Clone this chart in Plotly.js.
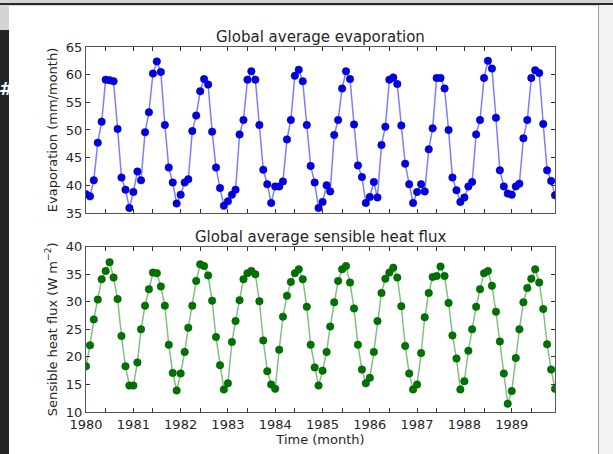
<!DOCTYPE html>
<html>
<head>
<meta charset="utf-8">
<script src="https://cdn.plot.ly/plotly-3.0.1.min.js"></script>
<style>
  html, body { margin: 0; padding: 0; width: 613px; height: 454px; overflow: hidden; background: #d4d4d4; }
  #leftbar { position: absolute; left: 0; top: 30px; width: 9px; height: 424px; background: #242424; }
  #topline { position: absolute; left: 0; top: 3px; width: 613px; height: 2px; background: #2a2a2a; }
  #rightbar { position: absolute; left: 598px; top: 5px; width: 15px; height: 449px; background: #f2f2f2; border-left: 1px solid #9a9a9a; }
  #hash { position: absolute; left: -1px; top: 78px; color: #ffffff; font: bold 18px "DejaVu Sans", sans-serif; }
  #chart { position: absolute; left: 9px; top: 6px; width: 589px; height: 448px; background: #ffffff; }
</style>
</head>
<body>
<div id="leftbar"></div>
<div id="topline"></div>
<div id="rightbar"></div>
<div id="hash">#</div>
<div id="chart"></div>
<script>
// ---- data (monthly, Jan 1980 - Dec 1989) ----
const startYear = 1980;
const years = [1980, 1981, 1982, 1983, 1984, 1985, 1986, 1987, 1988, 1989];

const evaporation = [
  38.4, 38.0, 40.9, 47.7, 51.5, 59.1, 59.0, 58.8, 50.2, 41.4, 39.2, 35.9,
  38.8, 42.5, 40.9, 49.6, 53.2, 60.2, 62.4, 60.5, 50.9, 43.2, 40.5, 36.7,
  38.3, 40.5, 41.1, 49.8, 52.6, 57.0, 59.2, 58.2, 49.7, 43.2, 39.5, 36.3,
  37.1, 38.3, 39.2, 49.2, 51.8, 59.1, 60.6, 59.1, 50.9, 42.8, 40.2, 36.8,
  39.8, 39.8, 40.7, 48.3, 51.8, 59.8, 60.9, 58.8, 50.9, 43.5, 40.5, 35.9,
  37.0, 40.0, 38.9, 49.1, 51.8, 57.5, 60.6, 59.2, 51.0, 43.6, 41.5, 36.8,
  37.9, 40.6, 37.8, 47.3, 50.6, 59.1, 59.5, 58.3, 50.8, 43.9, 40.2, 36.8,
  38.8, 40.2, 38.9, 46.5, 50.3, 59.4, 59.4, 57.5, 50.0, 41.4, 39.1, 37.0,
  37.8, 39.8, 40.6, 49.2, 51.8, 59.4, 62.5, 61.1, 52.2, 42.7, 39.8, 38.5,
  38.3, 39.8, 40.3, 48.5, 51.8, 59.4, 60.8, 60.3, 51.1, 42.7, 40.8, 38.2
];

const sensibleHeat = [
  18.3, 22.1, 26.8, 30.4, 34.1, 35.6, 37.2, 34.4, 30.5, 23.8, 18.3, 14.8,
  14.8, 19.0, 25.0, 29.3, 32.3, 35.3, 35.2, 32.8, 29.3, 22.2, 17.1, 13.9,
  17.0, 20.9, 25.3, 29.3, 33.8, 36.8, 36.5, 34.8, 30.2, 23.6, 18.5, 14.1,
  15.2, 22.7, 26.5, 30.3, 34.1, 35.2, 35.6, 35.0, 30.1, 23.0, 17.4, 15.0,
  14.2, 21.3, 27.3, 31.1, 33.6, 35.2, 35.9, 34.1, 29.1, 22.2, 18.1, 14.8,
  17.5, 20.9, 25.5, 29.9, 33.8, 35.9, 36.5, 33.5, 28.8, 22.2, 17.7, 15.2,
  16.2, 20.9, 26.5, 31.6, 34.2, 35.3, 36.2, 34.4, 29.2, 22.0, 17.0, 14.1,
  15.0, 20.7, 27.2, 31.6, 34.5, 34.7, 36.4, 34.7, 29.8, 23.9, 19.7, 14.1,
  15.6, 21.1, 25.0, 29.1, 32.3, 35.2, 35.6, 32.9, 28.2, 22.8, 17.0, 11.5,
  13.8, 19.8, 25.0, 29.9, 32.5, 34.2, 35.9, 33.5, 28.7, 22.3, 17.7, 14.2
];

const evapTicks = [35, 40, 45, 50, 55, 60, 65];
const heatTicks = [10, 15, 20, 25, 30, 35, 40];

// ---- build month dates ----
const months = [];
for (let i = 0; i < evaporation.length; i++) {
  const y = startYear + Math.floor(i / 12);
  const m = (i % 12) + 1;
  months.push(y + '-' + String(m).padStart(2, '0') + '-01');
}
const yearTickVals = years.map(y => y + '-01-01');
const yearTickText = years.map(y => String(y));
const midTickVals = years.map(y => y + '-06-01');

const FONT = '"DejaVu Sans", "Liberation Sans", sans-serif';
const TXT = '#262626';

const traces = [
  {
    x: months, y: evaporation, xaxis: 'x', yaxis: 'y',
    type: 'scatter', mode: 'lines+markers',
    line: { color: 'rgba(40,40,255,0.6)', width: 1.5 },
    marker: { color: '#0000e6', size: 7.5, line: { color: '#00009a', width: 0.5 } },
    hoverinfo: 'skip', cliponaxis: true
  },
  {
    x: months, y: sensibleHeat, xaxis: 'x2', yaxis: 'y2',
    type: 'scatter', mode: 'lines+markers',
    line: { color: 'rgba(30,140,30,0.55)', width: 1.5 },
    marker: { color: '#007300', size: 7.5, line: { color: '#005200', width: 0.5 } },
    hoverinfo: 'skip', cliponaxis: true
  }
];

const xCommon = {
  type: 'date',
  range: ['1980-01-01', '1989-12-01'],
  tickmode: 'array', tickvals: yearTickVals, ticktext: yearTickText,
  ticks: 'inside', ticklen: 4, tickwidth: 1, tickcolor: '#333',
  minor: { tickmode: 'array', tickvals: midTickVals, ticks: 'inside', ticklen: 4, tickwidth: 1, tickcolor: '#333', showgrid: false },
  showline: true, linecolor: '#555', linewidth: 1, mirror: 'ticks',
  showgrid: false, zeroline: false,
  tickfont: { family: FONT, size: 13, color: TXT }
};
const yCommon = {
  tickmode: 'array',
  ticks: 'inside', ticklen: 4, tickwidth: 1, tickcolor: '#333',
  showline: true, linecolor: '#555', linewidth: 1, mirror: 'ticks',
  showgrid: false, zeroline: false,
  tickfont: { family: FONT, size: 13, color: TXT }
};

const layout = {
  width: 589, height: 448,
  margin: { l: 76.5, r: 43, t: 41.3, b: 42.3 },
  paper_bgcolor: '#ffffff', plot_bgcolor: '#ffffff',
  showlegend: false,
  font: { family: FONT, color: TXT },
  xaxis: Object.assign({}, xCommon, { anchor: 'y', domain: [0, 1], showticklabels: false }),
  xaxis2: Object.assign({}, xCommon, {
    anchor: 'y2', domain: [0, 1], showticklabels: true,
    title: { text: 'Time (month)', font: { family: FONT, size: 13, color: TXT }, standoff: 3 }
  }),
  yaxis: Object.assign({}, yCommon, {
    anchor: 'x', domain: [0.5453, 1], range: [35, 65], tickvals: evapTicks,
    title: { text: 'Evaporation (mm/month)', font: { family: FONT, size: 13, color: TXT }, standoff: 5 }
  }),
  yaxis2: Object.assign({}, yCommon, {
    anchor: 'x2', domain: [0, 0.4528], range: [10, 40], tickvals: heatTicks,
    title: { text: 'Sensible heat flux (W m<sup>\u22122</sup>)', font: { family: FONT, size: 13, color: TXT }, standoff: 5 }
  }),
  annotations: [
    { text: 'Global average evaporation', xref: 'paper', yref: 'paper', x: 0.5, y: 1,
      xanchor: 'center', yanchor: 'bottom', yshift: -1, showarrow: false,
      font: { family: FONT, size: 15, color: TXT } },
    { text: 'Global average sensible heat flux', xref: 'paper', yref: 'paper', x: 0.5, y: 0.4528,
      xanchor: 'center', yanchor: 'bottom', yshift: -1, showarrow: false,
      font: { family: FONT, size: 15, color: TXT } }
  ]
};

Plotly.newPlot('chart', traces, layout, { staticPlot: true, displayModeBar: false });
</script>
</body>
</html>
